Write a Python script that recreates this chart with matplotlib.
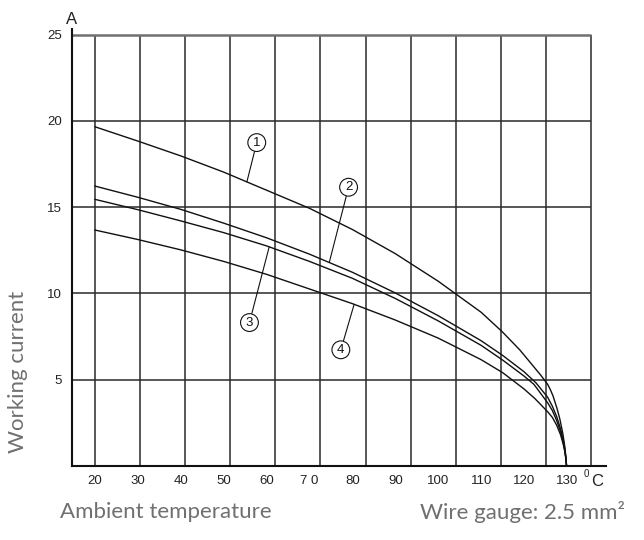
import numpy as np
import matplotlib
matplotlib.use("Agg")
import matplotlib.pyplot as plt

# curve readings: ambient temperature (°C) -> working current (A)
t_curve1 = [20, 30, 40, 50, 60, 70, 80, 90, 100, 110, 115, 119, 123.9, 125.5, 126.15, 126.75,
            127.65, 128.35, 129.05, 129.5, 129.75, 129.9]
i_curve1 = [19.66, 18.83, 17.97, 17.03, 15.98, 14.93, 13.7, 12.3, 10.7, 8.9, 7.75, 6.72, 5.25, 4.72, 4.4, 4.05,
            3.35, 2.7, 1.85, 1.1, 0.5, 0]

t_curve2 = [20, 30, 40, 50, 60, 70, 80, 90, 100, 110, 115, 120, 122.8, 125.5, 126.6, 127.6,
            128.5, 129.1, 129.5, 129.75, 129.9]
i_curve2 = [16.22, 15.57, 14.87, 14.07, 13.22, 12.27, 11.22, 10.02, 8.7, 7.25, 6.4, 5.45, 4.8, 3.97, 3.45, 2.85,
            2.15, 1.5, 0.95, 0.45, 0]

t_curve3 = [20, 30, 40, 50, 60, 70, 80, 90, 100, 110, 115, 120, 122.3, 125.5, 126.6, 127.6,
            128.5, 129.1, 129.5, 129.75, 129.9]
i_curve3 = [15.45, 14.85, 14.2, 13.52, 12.75, 11.85, 10.87, 9.7, 8.4, 6.98, 6.13, 5.2, 4.72, 3.65, 3.2, 2.62,
            1.98, 1.38, 0.88, 0.42, 0]

t_curve4 = [20, 30, 40, 50, 60, 70, 80, 90, 100, 110, 115, 120, 122.5, 125.5, 126.6, 127.6,
            128.5, 129.1, 129.5, 129.75, 129.9]
i_curve4 = [13.67, 13.12, 12.52, 11.85, 11.1, 10.25, 9.4, 8.45, 7.4, 6.15, 5.4, 4.45, 3.9, 3.13, 2.8, 2.35,
            1.8, 1.28, 0.82, 0.4, 0]

curve_names = ["1", "2", "3", "4"]
x_ticks = [20, 30, 40, 50, 60, 70, 80, 90, 100, 110, 120, 130]
x_ticklabels = ["20", "30", "40", "50", "60", "7 0", "80", "90", "100", "110", "120", "130"]
y_ticks = [5, 10, 15, 20, 25]

# where the circled numbers sit and where their leaders touch the curves
label_pos = [(57.7, 18.83), (79.1, 16.24), (56.0, 8.39), (77.3, 6.81)]
leader_t = [55.4, 74.6, 60.6, 80.4]

curves = [(t_curve1, i_curve1), (t_curve2, i_curve2), (t_curve3, i_curve3), (t_curve4, i_curve4)]

plt.rcParams['font.family'] = ['Liberation Sans', 'DejaVu Sans']

fig = plt.figure(figsize=(6.44, 5.40), dpi=100)
ax = fig.add_axes([72 / 644, 1 - 465.7 / 540, (606 - 72) / 644, (465.7 - 28.7) / 540])

x_min, x_max = 14.64, 139.1
grid_right = 135.6
ax.set_xlim(x_min, x_max)
ax.set_ylim(0, 25.35)

# drawn grid (the vertical lines of the original do not line up with the tick labels)
grid_x = np.linspace(20, grid_right, 12)
ax.vlines(grid_x, 0, 25, color='#2a2a2a', lw=1.1, zorder=1)
ax.hlines([5, 10, 15, 20], x_min, grid_right, color='#2a2a2a', lw=1.1, zorder=1)
ax.hlines(25, x_min, grid_right, color='#707070', lw=1.8, zorder=1)

for t, i in curves:
    ax.plot(t, i, color='#111111', lw=1.0, zorder=3)

for name, (t, i), pos, lt in zip(curve_names, curves, label_pos, leader_t):
    anchor = (lt, np.interp(lt, t, i))
    ax.annotate(name, xy=anchor, xytext=pos, ha='center', va='center_baseline',
                fontsize=9.5, color='#111111',
                bbox=dict(boxstyle='circle,pad=0.22', fc='white', ec='#111111', lw=0.8),
                arrowprops=dict(arrowstyle='-', lw=0.8, color='#111111', shrinkA=0, shrinkB=0),
                zorder=4)

for side in ['top', 'right']:
    ax.spines[side].set_visible(False)
ax.spines['left'].set_linewidth(1.5)
ax.spines['bottom'].set_linewidth(1.5)
ax.spines['left'].set_color('#111111')
ax.spines['bottom'].set_color('#111111')

ax.set_xticks(x_ticks)
ax.set_xticklabels(x_ticklabels)
ax.set_yticks(y_ticks)
ax.tick_params(axis='both', length=0, labelsize=9.5, labelcolor='#222222')
ax.tick_params(axis='x', pad=7)
ax.tick_params(axis='y', pad=7)

ax.annotate('A', xy=(0, 1), xycoords='axes fraction', xytext=(0, 1.5), textcoords='offset points',
            ha='center', va='bottom', fontsize=12, color='#222222')
fig.text(586 / 644, 1 - 474 / 540, '0', fontsize=7, color='#222222', ha='center', va='center')
fig.text(597 / 644, 1 - 481 / 540, 'C', fontsize=12, color='#222222', ha='center', va='center')

side_text = dict(family=['Lato', 'DejaVu Sans'], color='#707070', fontsize=16)
fig.text(18 / 644, 1 - 372 / 540, 'Working current', rotation=90, ha='center', va='center', **side_text)
fig.text(166 / 644, 1 - 512 / 540, 'Ambient temperature', ha='center', va='center', **side_text)
fig.text(522 / 644, 1 - 512 / 540, 'Wire gauge: 2.5 mm\u00b2', ha='center', va='center', **side_text)

fig.savefig('out.png', dpi=100)
